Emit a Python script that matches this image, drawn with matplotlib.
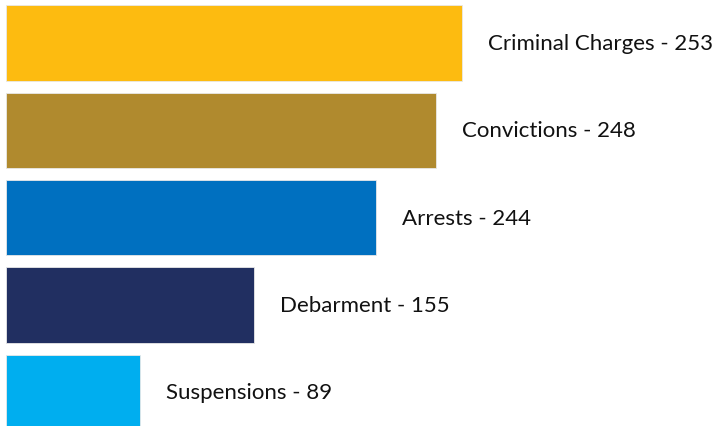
import matplotlib
matplotlib.use("Agg")
import matplotlib.pyplot as plt

categories = ["Criminal Charges", "Convictions", "Arrests", "Debarment", "Suspensions"]
counts = [253, 248, 244, 155, 89]
# bar lengths as drawn in the reference (not proportional to counts)
bar_lengths = [456, 430, 370, 248, 134]
colors = ["#FDBB10", "#B08A2E", "#0070C0", "#212F61", "#00AEEF"]

fig = plt.figure(figsize=(7.14, 4.27), dpi=100)
ax = fig.add_axes([0, 0, 1, 1])
ypos = list(range(len(categories)))
bars = ax.barh(ypos, bar_lengths, height=0.86, color=colors, left=0,
               edgecolor="#e8e8e8", linewidth=0.6)
for y, L, cat, n in zip(ypos, bar_lengths, categories, counts):
    ax.annotate(f"{cat} - {n}", xy=(L, y), xytext=(26, 0),
                textcoords="offset pixels", va="center", ha="left",
                fontsize=16, family="Lato", color="#111111")
ax.set_xlim(-6, 708)
ax.set_ylim(4.386, -0.504)
ax.axis("off")
fig.savefig("out.png", dpi=100)
